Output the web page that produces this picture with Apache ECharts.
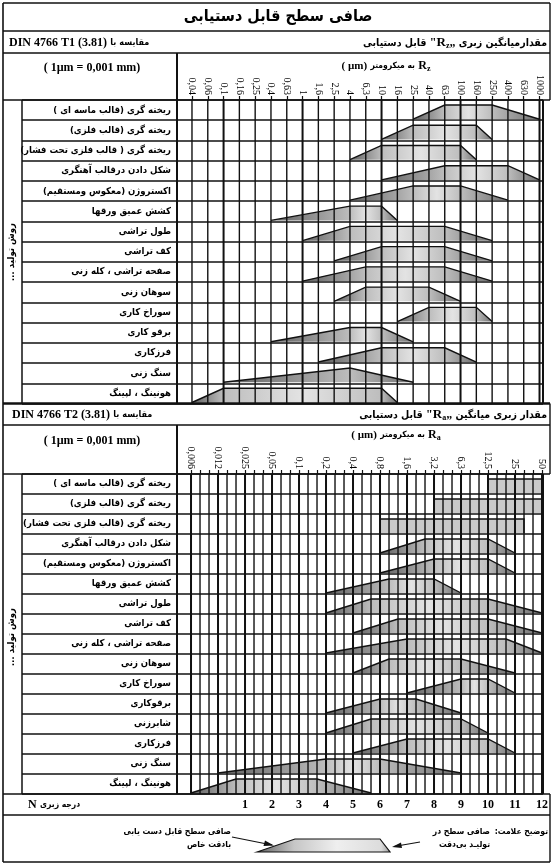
<!DOCTYPE html>
<html><head><meta charset="utf-8">
<script src="https://cdn.jsdelivr.net/npm/echarts@6/dist/echarts.min.js"></script>
<style>html,body{margin:0;padding:0;background:#fff}#c{width:556px;height:864px}</style>
</head><body><div id="c"></div>
<script>
const RLM = '\u200F';
const fa = s => RLM + s + RLM;

// ---------- Upper table: Rz (µm) ----------
const rzTickLabels = ['0,04','0,06','0,1','0,16','0,25','0,4','0,63','1','1,6','2,5','4','6,3','10','16','25','40','63','100','160','250','400','630','1000'];
const rzProcesses = ['ریخته گری (قالب ماسه ای )','ریخته گری (قالب فلزی)','ریخته گری ( قالب فلزی تحت فشار)','شکل دادن درقالب آهنگری','اکستروژن (معکوس ومستقیم)','کشش عمیق ورقها','طول تراشی','کف تراشی','صفحه تراشی ، کله زنی','سوهان زنی','سوراخ کاری','برقو کاری','فرزکاری','سنگ زنی','هونینگ ، لپینگ'];
const rzFineLimit  = [25, 10, 4, 10, 4, 0.4, 1, 2.5, 1, 2.5, 16, 0.4, 1.6, 0.1, 0.04];
const rzUsualMin   = [63, 25, 10, 63, 25, 4, 4, 10, 6.3, 6.3, 40, 4, 10, 4, 0.1];
const rzUsualMax   = [250, 160, 100, 400, 100, 10, 63, 63, 63, 40, 160, 10, 63, 4, 10];
const rzRoughLimit = [1000, 250, 160, 1000, 400, 16, 250, 250, 250, 100, 250, 25, 160, 25, 16];

// ---------- Lower table: Ra (µm) ----------
const raTickLabels = ['0,006','0,012','0,025','0,05','0,1','0,2','0,4','0,8','1,6','3,2','6,3','12,5','25','50'];
const raProcesses = ['ریخته گری (قالب ماسه ای )','ریخته گری (قالب فلزی)','ریخته گری (قالب فلزی تحت فشار)','شکل دادن درقالب آهنگری','اکستروژن (معکوس ومستقیم)','کشش عمیق ورقها','طول تراشی','کف تراشی','صفحه تراشی ، کله زنی','سوهان زنی','سوراخ کاری','برقوکاری','شابرزنی','فرزکاری','سنگ زنی','هونینگ ، لپینگ'];
const raFineLimit  = [12.5, 3.2, 0.8, 0.8, 0.8, 0.2, 0.2, 0.4, 0.2, 0.4, 1.6, 0.2, 0.2, 0.4, 0.012, 0.006];
const raUsualMin   = [12.5, 3.2, 0.8, 2.5, 3.2, 1, 0.63, 1.25, 1.6, 1, 6.3, 0.8, 0.63, 1.6, 0.2, 0.02];
const raUsualMax   = [50, 50, 32, 12.5, 12.5, 3.2, 12.5, 12.5, 20, 6.3, 12.5, 2, 6.3, 12.5, 0.8, 0.16];
const raRoughLimit = [50, 50, 32, 25, 25, 6.3, 50, 50, 50, 25, 25, 6.3, 12.5, 25, 6.3, 0.63];
const nGrades = ['1','2','3','4','5','6','7','8','9','10','11','12'];

// value (µm) -> step position on the preferred-number scales
function snap(t){ const r = Math.round(t); return Math.abs(t - r) < 0.25 ? r : t; }
const rzPos = v => snap(5 * Math.log10(v / 0.04));      // 5 steps per decade
const raPos = v => snap(3 * Math.log2(v / 0.00625));    // 3 steps per doubling

const rzData = rzProcesses.map((_, i) => [i, rzPos(rzFineLimit[i]), rzPos(rzUsualMin[i]), rzPos(rzUsualMax[i]), rzPos(rzRoughLimit[i])]);
const raData = raProcesses.map((_, i) => [i, raPos(raFineLimit[i]), raPos(raUsualMin[i]), raPos(raUsualMax[i]), raPos(raRoughLimit[i])]);
const rzLines = rzTickLabels.map((_, i) => [i, 0]);
const raLines = []; for (let m = 0; m <= 3 * (raTickLabels.length - 1); m++) raLines.push([m, 0]);
const raLabelVals = raTickLabels.map((_, i) => 3 * i);
const nVals = nGrades.map((_, i) => 3 * (i + 2));

function shapeRender(params, api){
  const row = api.value(0);
  const c = api.coord([0, row]);
  const band = api.size([0, 1])[1];
  const yTop = c[1] - band / 2 + 5, yBot = c[1] + band / 2 - 1;
  const xs = [1,2,3,4].map(d => api.coord([api.value(d), row])[0]);
  const [xbl, xtl, xtr, xbr] = xs;
  const w = Math.max(1, xbr - xbl);
  const p1 = (xtl - xbl) / w, p2 = (xtr - xbl) / w;
  const rect = Math.abs(xtl - xbl) < 0.5 && Math.abs(xbr - xtr) < 0.5;
  const fill = rect ? '#c9c9c9' : {type:'linear', x:0, y:0, x2:1, y2:0, colorStops:[
    {offset:0, color:'#5f5f5f'}, {offset:p1, color:'#bdbdbd'}, {offset:(p1 + p2) / 2, color:'#e3e3e3'},
    {offset:p2, color:'#bdbdbd'}, {offset:1, color:'#6f6f6f'}]};
  const pts = [[xbl, yBot], [xtl, yTop], [xtr, yTop], [xbr, yBot]];
  return {type:'group', children:[
    {type:'polygon', shape:{points:pts}, style:{fill:fill}},
    {type:'polyline', shape:{points:pts}, style:{stroke:'#111', lineWidth:1.4, fill:null}}
  ]};
}
function vlineRender(major){
  return function(params, api){
    const v = api.value(0);
    const x = api.coord([v, 0])[0];
    const cs = params.coordSys;
    return {type:'line', shape:{x1:x, y1:cs.y, x2:x, y2:cs.y + cs.height},
      style:{stroke:'#111', lineWidth: major(v) ? 2 : 1.4}};
  };
}

const faFont = '"DejaVu Sans Condensed", "DejaVu Sans"';
const rowLabel = {fontFamily:faFont, fontWeight:'bold', fontSize:9.5, color:'#000', margin:5, interval:0, formatter: v => fa(v)};
const catAxis = (gi, names) => ({type:'category', gridIndex:gi, data:names, inverse:true, position:'left', offset:-154,
  axisLine:{show:false}, axisTick:{show:false}, axisLabel:rowLabel,
  splitLine:{show:true, interval:0, lineStyle:{color:'#111', width:1.5}}});

const T = (x, y, text, font, align, extra) => Object.assign({type:'text', x:x, y:y, z:100,
  style:{text:text, font:font, fill:'#000', textAlign:align || 'left', textVerticalAlign:'middle'}}, extra || {});
const L = (x1, y1, x2, y2, w) => ({type:'line', z:100, shape:{x1, y1, x2, y2}, style:{stroke:'#111', lineWidth:w || 1.3}});
const richFa = {fontFamily:faFont, fontWeight:'bold'};

const graphics = [
  // frame
  L(3,3,550,3,1.6), L(3,3,3,862,1.6), L(3,862,550,862,1.6),
  L(550,3,550,100,1.4), L(550,403.5,550,474,1.4), L(550,794,550,862,1.4),
  L(543,100,543,403.5,2), L(543,474,543,794,2),
  L(3,31,550,31,1.6), L(3,53,550,53,1.4), L(3,100,550,100,1.6),
  L(3,403.5,550,403.5,2.4), L(3,425,550,425,1.4), L(3,474,550,474,1.6),
  L(3,794,550,794,1.6), L(3,815,550,815,1.4),
  L(177,53,177,403.5,2), L(177,425,177,794,2),
  L(22,100,22,403.5,1.5), L(22,474,22,794,1.5),
  // title
  T(278, 17, fa('صافی سطح قابل دستیابی'), 'bold 16px ' + faFont, 'center'),
  // upper header
  {type:'text', x:9, y:43, z:100, style:{text:'{a|DIN 4766 T1 (3.81)} {b|مقایسه با}', textVerticalAlign:'middle',
    rich:{a:{fontFamily:'Liberation Serif', fontWeight:'bold', fontSize:12}, b:Object.assign({fontSize:9}, richFa)}}},
  {type:'text', x:547, y:43, z:100, style:{text:'{p|قابل دستیابی} {q|"}{r|R}{s|z}{q|„} {p|مقدارمیانگین زبری}', textAlign:'right', textVerticalAlign:'middle',
    rich:{p:Object.assign({fontSize:10.5}, richFa), q:{fontFamily:'Liberation Serif', fontWeight:'bold', fontSize:12},
      r:{fontFamily:'Liberation Serif', fontWeight:'bold', fontSize:13}, s:{fontFamily:'Liberation Serif', fontWeight:'bold', fontSize:8, padding:[6,0,0,0]}}}},
  T(92, 68, '( 1µm = 0,001 mm)', 'bold 12px "Liberation Serif"', 'center'),
  {type:'text', x:386, y:66, z:100, style:{text:'{a|( µm)} {p|به میکرومتر} {r|R}{s|z}', textAlign:'center', textVerticalAlign:'middle',
    rich:{a:{fontFamily:'Liberation Serif', fontWeight:'bold', fontSize:11}, p:Object.assign({fontSize:8.5}, richFa),
      r:{fontFamily:'Liberation Serif', fontWeight:'bold', fontSize:12}, s:{fontFamily:'Liberation Serif', fontWeight:'bold', fontSize:8, padding:[5,0,0,0]}}}},
  T(12, 252, fa('روش تولید ...'), 'bold 9.5px ' + faFont, 'center', {rotation: Math.PI / 2}),
  // lower header
  {type:'text', x:12, y:415, z:100, style:{text:'{a|DIN 4766 T2 (3.81)} {b|مقایسه با}', textVerticalAlign:'middle',
    rich:{a:{fontFamily:'Liberation Serif', fontWeight:'bold', fontSize:12}, b:Object.assign({fontSize:9}, richFa)}}},
  {type:'text', x:547, y:415, z:100, style:{text:'{p|قابل دستیابی} {q|"}{r|R}{s|a}{q|„} {p|مقدار زبری میانگین}', textAlign:'right', textVerticalAlign:'middle',
    rich:{p:Object.assign({fontSize:10.5}, richFa), q:{fontFamily:'Liberation Serif', fontWeight:'bold', fontSize:12},
      r:{fontFamily:'Liberation Serif', fontWeight:'bold', fontSize:13}, s:{fontFamily:'Liberation Serif', fontWeight:'bold', fontSize:8, padding:[6,0,0,0]}}}},
  T(92, 441, '( 1µm = 0,001 mm)', 'bold 12px "Liberation Serif"', 'center'),
  {type:'text', x:396, y:435, z:100, style:{text:'{a|( µm)} {p|به میکرومتر} {r|R}{s|a}', textAlign:'center', textVerticalAlign:'middle',
    rich:{a:{fontFamily:'Liberation Serif', fontWeight:'bold', fontSize:11}, p:Object.assign({fontSize:8.5}, richFa),
      r:{fontFamily:'Liberation Serif', fontWeight:'bold', fontSize:12}, s:{fontFamily:'Liberation Serif', fontWeight:'bold', fontSize:8, padding:[5,0,0,0]}}}},
  T(12, 637, fa('روش تولید ...'), 'bold 9.5px ' + faFont, 'center', {rotation: Math.PI / 2}),
  // N row
  {type:'text', x:28, y:805, z:100, style:{text:'{a|N} {p|درجه زبری}', textVerticalAlign:'middle',
    rich:{a:{fontFamily:'Liberation Serif', fontWeight:'bold', fontSize:12}, p:Object.assign({fontSize:8.5}, richFa)}}},
  // legend
  {type:'polygon', z:100, shape:{points:[[257,852],[295,839],[380,839],[390,852]]},
    style:{stroke:'#111', lineWidth:1.2, fill:{type:'linear', x:0, y:0, x2:1, y2:0, colorStops:[
      {offset:0, color:'#5f5f5f'}, {offset:0.28, color:'#c6c6c6'}, {offset:0.6, color:'#efefef'}, {offset:0.93, color:'#dcdcdc'}, {offset:1, color:'#9a9a9a'}]}}},
  L(232, 837, 272, 845, 1.1),
  {type:'polygon', z:100, shape:{points:[[274,845.5],[265,840.5],[263.5,846]]}, style:{fill:'#111'}},
  L(420, 842, 394, 846.5, 1.1),
  {type:'polygon', z:100, shape:{points:[[392,847],[401,842.5],[402,848]]}, style:{fill:'#111'}},
  T(548, 832, fa('توضیح علامت:'), 'bold 8.5px ' + faFont, 'right'),
  T(490, 832, fa('صافی سطح در'), 'bold 8.5px ' + faFont, 'right'),
  T(490, 845, fa('تولیـد بی‌دقت'), 'bold 8.5px ' + faFont, 'right'),
  T(231, 832, fa('صافی سطح قابل دست یابی'), 'bold 8.5px ' + faFont, 'right'),
  T(231, 845, fa('بادقت خاص'), 'bold 8.5px ' + faFont, 'right')
];

const tickLbl = {fontFamily:'Liberation Serif', fontSize:10, color:'#000', rotate:90, margin:5};

const option = {
  animation:false,
  backgroundColor:'#fff',
  grid:[
    {left:22, right:13, top:100, height:303.5},
    {left:22, right:13, top:474, height:320}
  ],
  xAxis:[
    {type:'value', gridIndex:0, position:'top', min:-10.76, max:22.22,
      axisLine:{show:false}, splitLine:{show:false},
      axisTick:{show:true, length:4, customValues:rzTickLabels.map((_, i) => i), lineStyle:{color:'#111', width:1.2}},
      axisLabel:Object.assign({customValues:rzTickLabels.map((_, i) => i), formatter: v => rzTickLabels[Math.round(v)] || ''}, tickLbl)},
    {type:'value', gridIndex:1, position:'top', min:-18.78, max:39.11,
      axisLine:{show:false}, splitLine:{show:false},
      axisTick:{show:true, length:4, customValues:raLines.map(d => d[0]), lineStyle:{color:'#111', width:1.2}},
      axisLabel:Object.assign({customValues:raLabelVals, formatter: v => raTickLabels[Math.round(v / 3)] || ''}, tickLbl)},
    {type:'value', gridIndex:1, position:'bottom', min:-18.78, max:39.11,
      axisLine:{show:false}, splitLine:{show:false}, axisTick:{show:false},
      axisLabel:{customValues:nVals, formatter: v => nGrades[Math.round(v / 3) - 2] || '', fontFamily:'Liberation Serif', fontWeight:'bold', fontSize:12, color:'#000', margin:5}}
  ],
  yAxis:[catAxis(0, rzProcesses), catAxis(1, raProcesses)],
  series:[
    {type:'custom', name:'Rz', xAxisIndex:0, yAxisIndex:0, z:2, data:rzData, encode:{x:[1,2,3,4], y:0}, renderItem:shapeRender},
    {type:'custom', name:'Rz grid', xAxisIndex:0, yAxisIndex:0, z:3, data:rzLines, encode:{x:0, y:1}, renderItem:vlineRender(v => v % 5 === 2), silent:true},
    {type:'custom', name:'Ra', xAxisIndex:1, yAxisIndex:1, z:2, data:raData, encode:{x:[1,2,3,4], y:0}, renderItem:shapeRender},
    {type:'custom', name:'Ra grid', xAxisIndex:1, yAxisIndex:1, z:3, data:raLines, encode:{x:0, y:1}, renderItem:vlineRender(v => v % 3 === 0), silent:true}
  ],
  graphic:graphics
};
const chart = echarts.init(document.getElementById('c'));
chart.setOption(option);
</script>
</body></html>
